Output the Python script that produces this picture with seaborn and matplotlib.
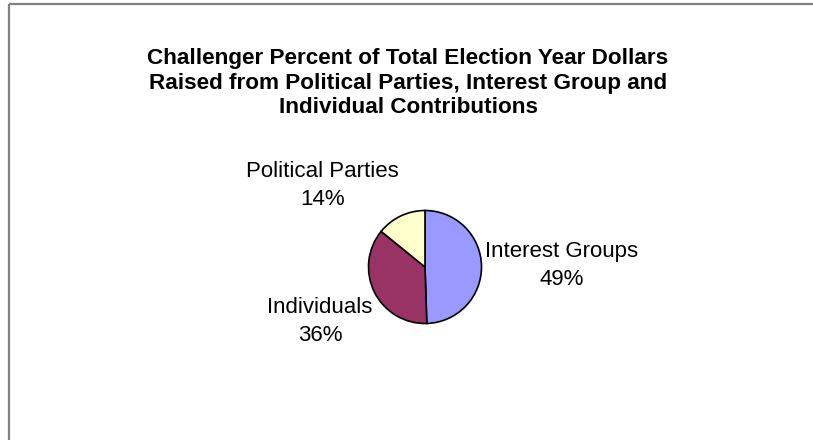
import matplotlib
matplotlib.use("Agg")
import matplotlib.pyplot as plt
import seaborn as sns

categories = ["Interest Groups", "Individuals", "Political Parties"]
percents = [49, 36, 14]
colors = ["#9999FF", "#993366", "#FFFFCC"]
title = ("Challenger Percent of Total Election Year Dollars\n"
         "Raised from Political Parties, Interest Group and\n"
         "Individual Contributions")

sns.set_theme(style="white")
plt.rcParams["font.family"] = ["Liberation Sans", "DejaVu Sans"]
plt.rcParams["text.color"] = "black"

W, H = 813, 440
fig = plt.figure(figsize=(W / 100, H / 100), dpi=100)
ax = fig.add_axes([0, 0, 1, 1])
ax.set_axis_off()

ax.pie(percents, colors=colors, startangle=90, counterclock=False,
       center=(425, H - 267), radius=56.5,
       wedgeprops=dict(edgecolor="black", linewidth=1.2))
ax.set_xlim(0, W)
ax.set_ylim(0, H)
ax.set_aspect("equal")

# border
ax.plot([9, 9], [0, H - 4], color="#808080", lw=1.6, solid_capstyle="butt")
ax.plot([9, W], [H - 4, H - 4], color="#808080", lw=1.6, solid_capstyle="butt")

# title
ax.text(408, H - 83, title, ha="center", va="center", fontsize=16.2,
        fontweight="bold", linespacing=1.24, color="black")

# labels (center x, baseline y of first line)
label_pos = [(561.5, 257), (320, 312.5), (322.5, 177)]
for name, pct, (lx, ly) in zip(categories, percents, label_pos):
    ax.text(lx, H - ly, name, ha="center", va="baseline", fontsize=16, color="black")
    ax.text(lx, H - ly - 28, f"{pct}%", ha="center", va="baseline", fontsize=16, color="black")

fig.savefig("out.png", dpi=100, facecolor="white")
